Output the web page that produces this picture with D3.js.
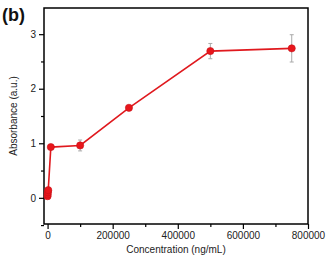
<!DOCTYPE html>
<html>
<head>
<meta charset="utf-8">
<script src="https://cdn.jsdelivr.net/npm/d3@7"></script>
<style>
  body { margin: 0; background: #fff; }
  svg { display: block; font-family: "Liberation Sans", Arial, sans-serif; }
</style>
</head>
<body>
<svg width="330" height="255"></svg>
<script>
// concentration (ng/mL) and absorbance readings
var conc = [0, 200, 1000, 2000, 10000, 100000, 250000, 500000, 750000];
var absorb = [0.03, 0.06, 0.1, 0.14, 0.93, 0.96, 1.65, 2.69, 2.74];
var errs = [0.02, 0.02, 0.02, 0.02, 0.04, 0.1, 0.04, 0.14, 0.25];
var xTicks = [0, 200000, 400000, 600000, 800000];
var yTicks = [0, 1, 2, 3];

var svg = d3.select("svg"),
  margin = {top: 8, right: 22, bottom: 31, left: 44},
  width = +svg.attr("width") - margin.left - margin.right,
  height = +svg.attr("height") - margin.top - margin.bottom,
  g = svg.append("g").attr("transform", "translate(" + margin.left + "," + margin.top + ")");

var x = d3.scaleLinear().domain([-11000, 800000]).range([0, width]);
var y = d3.scaleLinear().domain([-0.48, 3.48]).range([height, 0]);

var data = conc.map(function(c, i) { return {c: c, v: absorb[i], e: errs[i]}; });

// frame
g.append("rect")
    .attr("width", width).attr("height", height)
    .attr("fill", "none").attr("stroke", "#000").attr("stroke-width", 1.5);

// minor ticks
g.append("g")
    .attr("transform", "translate(0," + height + ")")
    .call(d3.axisBottom(x).tickValues([100000, 300000, 500000, 700000]).tickSize(3).tickFormat(""))
    .call(function(a) { a.select(".domain").remove(); a.selectAll("line").attr("stroke-width", 1.2); });
g.append("g")
    .call(d3.axisLeft(y).tickValues([-0.5, 0.5, 1.5, 2.5]).tickSize(3).tickFormat(""))
    .call(function(a) { a.select(".domain").remove(); a.selectAll("line").attr("stroke-width", 1.2); });

var xa = g.append("g")
    .attr("transform", "translate(0," + height + ")")
    .call(d3.axisBottom(x).tickValues(xTicks).tickSize(5).tickPadding(3).tickFormat(d3.format("d")));
xa.select(".domain").remove();
xa.selectAll("line").attr("stroke-width", 1.2);
xa.selectAll("text").attr("font-size", 10).attr("fill", "#222").attr("font-family", "Liberation Sans, Arial, sans-serif");

var ya = g.append("g")
    .call(d3.axisLeft(y).tickValues(yTicks).tickSize(5).tickPadding(3).tickFormat(d3.format("d")));
ya.select(".domain").remove();
ya.selectAll("line").attr("stroke-width", 1.2);
ya.selectAll("text").attr("font-size", 10).attr("fill", "#222").attr("font-family", "Liberation Sans, Arial, sans-serif");

// error bars
var eb = g.selectAll(".eb").data(data).enter().append("g").attr("class", "eb")
    .attr("stroke", "#aaa").attr("stroke-width", 1);
eb.append("line")
    .attr("x1", function(d) { return x(d.c); }).attr("x2", function(d) { return x(d.c); })
    .attr("y1", function(d) { return y(d.v - d.e); }).attr("y2", function(d) { return y(d.v + d.e); });
eb.append("line")
    .attr("x1", function(d) { return x(d.c) - 2; }).attr("x2", function(d) { return x(d.c) + 2; })
    .attr("y1", function(d) { return y(d.v + d.e); }).attr("y2", function(d) { return y(d.v + d.e); });
eb.append("line")
    .attr("x1", function(d) { return x(d.c) - 2; }).attr("x2", function(d) { return x(d.c) + 2; })
    .attr("y1", function(d) { return y(d.v - d.e); }).attr("y2", function(d) { return y(d.v - d.e); });

var line = d3.line()
    .x(function(d) { return x(d.c); })
    .y(function(d) { return y(d.v); });

g.append("path")
    .datum(data)
    .attr("d", line)
    .attr("fill", "none")
    .attr("stroke", "#e0191e")
    .attr("stroke-width", 1.6);

g.selectAll(".pt").data(data).enter().append("circle")
    .attr("class", "pt")
    .attr("cx", function(d) { return x(d.c); })
    .attr("cy", function(d) { return y(d.v); })
    .attr("r", 3.6)
    .attr("fill", "#e8161b")
    .attr("stroke", "#c8101a")
    .attr("stroke-width", 0.6);

// axis titles
svg.append("text")
    .attr("x", margin.left + width / 2).attr("y", 253)
    .attr("text-anchor", "middle").attr("font-size", 10).attr("fill", "#222")
    .text("Concentration (ng/mL)");
svg.append("text")
    .attr("transform", "translate(17," + (margin.top + height / 2) + ") rotate(-90)")
    .attr("text-anchor", "middle").attr("font-size", 10).attr("fill", "#222")
    .text("Absorbance (a.u.)");

svg.append("text")
    .attr("x", 2).attr("y", 21)
    .attr("font-size", 18).attr("font-weight", "bold").attr("fill", "#111")
    .text("(b)");
</script>
</body>
</html>
